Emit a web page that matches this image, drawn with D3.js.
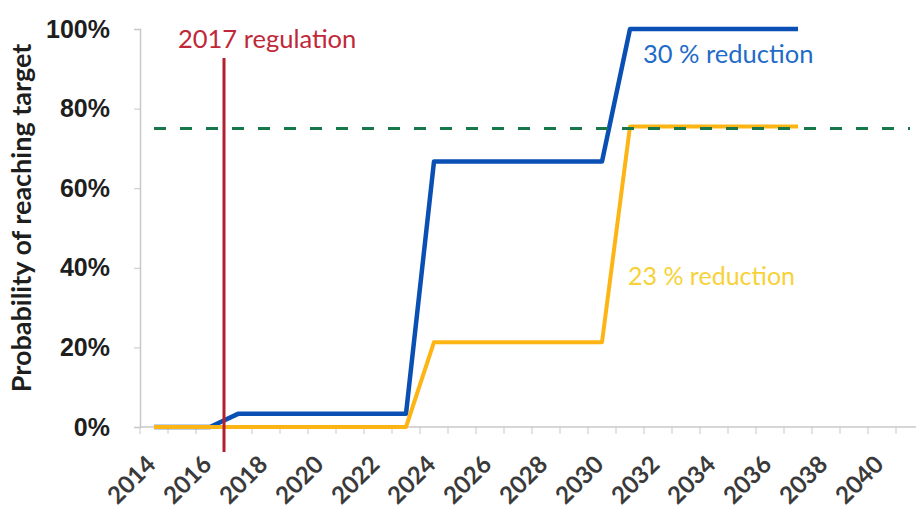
<!DOCTYPE html>
<html>
<head>
<meta charset="utf-8">
<title>Probability of reaching target</title>
<style>
  body { margin: 0; background: #fff; }
  svg { display: block; font-family: Lato, "Open Sans", sans-serif; }
</style>
</head>
<body>
<svg width="916" height="508"></svg>
<script src="https://d3js.org/d3.v7.min.js"></script>
<script>

    // data
    var years = d3.range(2014, 2042);            // category axis 2014..2041
    var tickYears = d3.range(2014, 2041, 2);     // labelled every second year
    var lineYears = d3.range(2014, 2038);        // series run 2014..2037
    var reduction30 = [0, 0, 0, 0.033, 0.033, 0.033, 0.033, 0.033, 0.033, 0.033,
                       0.667, 0.667, 0.667, 0.667, 0.667, 0.667, 0.667,
                       1, 1, 1, 1, 1, 1, 1];
    var reduction23 = [0, 0, 0, 0, 0, 0, 0, 0, 0, 0,
                       0.213, 0.213, 0.213, 0.213, 0.213, 0.213, 0.213,
                       0.755, 0.755, 0.755, 0.755, 0.755, 0.755, 0.755];
    var target = 0.75;
    var regulationYear = 2017;
    var yTicks = [0, 0.2, 0.4, 0.6, 0.8, 1];

    var svg = d3.select("svg");

    // scales
    var x = d3.scaleBand()
        .domain(years)
        .range([140, 140 + 28 * 28]);
    var y = d3.scaleLinear()
        .domain([0, 1])
        .range([427, 29]);
    var cx = d => x(d) + x.bandwidth() / 2;

    // y axis
    var yAxis = svg.append("g")
        .attr("transform", "translate(140,0)")
        .call(d3.axisLeft(y).tickValues(yTicks).tickSize(6).tickFormat(d3.format(".0%")));
    yAxis.select(".domain").attr("stroke", "#c8c8c8").attr("stroke-width", 1.5);
    yAxis.selectAll(".tick line").attr("stroke", "#c8c8c8");
    yAxis.selectAll(".tick text")
        .attr("x", -30)
        .attr("fill", "#1e1e1e")
        .attr("font-size", 25)
        .attr("font-weight", "bold");

    // x axis, ticks between categories like the original
    var xAxis = svg.append("g")
        .attr("transform", "translate(0,427)");
    xAxis.append("line")
        .attr("x1", 140).attr("x2", 916)
        .attr("stroke", "#c8c8c8").attr("stroke-width", 1.5);
    xAxis.selectAll("line.tk")
        .data(years)
        .enter().append("line")
            .attr("class", "tk")
            .attr("x1", d => x(d)).attr("x2", d => x(d))
            .attr("y1", 0).attr("y2", 7)
            .attr("stroke", "#c8c8c8");
    xAxis.selectAll("text")
        .data(tickYears)
        .enter().append("text")
            .attr("transform", d => "translate(" + (cx(d) + 3) + ",39) rotate(-45)")
            .attr("text-anchor", "end")
            .attr("fill", "#3a3a3a")
            .attr("font-size", 24)
            .attr("font-weight", "bold")
            .text(d => d);

    // axis title
    svg.append("text")
        .attr("transform", "translate(31,218) rotate(-90)")
        .attr("text-anchor", "middle")
        .attr("fill", "#1e1e1e")
        .attr("font-size", 27)
        .attr("font-weight", "bold")
        .text("Probability of reaching target");

    // series
    var line = d3.line()
        .x((d, i) => cx(lineYears[i]))
        .y(d => y(d));

    svg.append("path")
        .datum(reduction30)
        .attr("fill", "none")
        .attr("stroke", "#0a4fb4")
        .attr("stroke-width", 4.5)
        .attr("stroke-linejoin", "round")
        .attr("d", line);

    svg.append("path")
        .datum(reduction23)
        .attr("fill", "none")
        .attr("stroke", "#fdb515")
        .attr("stroke-width", 4)
        .attr("stroke-linejoin", "round")
        .attr("d", line);

    // target line
    svg.append("line")
        .attr("x1", cx(2014)).attr("x2", 910)
        .attr("y1", y(target)).attr("y2", y(target))
        .attr("stroke", "#16784a")
        .attr("stroke-width", 3)
        .attr("stroke-dasharray", "12,14");

    // regulation marker
    svg.append("line")
        .attr("x1", x(regulationYear)).attr("x2", x(regulationYear))
        .attr("y1", 58).attr("y2", 452)
        .attr("stroke", "#b3202e")
        .attr("stroke-width", 3);

    // labels
    svg.append("text")
        .attr("x", 178).attr("y", 48)
        .attr("fill", "#c0283a")
        .attr("font-size", 25.5)
        .text("2017 regulation");

    svg.append("text")
        .attr("x", 643).attr("y", 63)
        .attr("fill", "#1f6cc8")
        .attr("font-size", 25.5)
        .text("30 % reduction");

    svg.append("text")
        .attr("x", 628).attr("y", 285)
        .attr("fill", "#f6d238")
        .attr("font-size", 25)
        .text("23 % reduction");

</script>
</body>
</html>
